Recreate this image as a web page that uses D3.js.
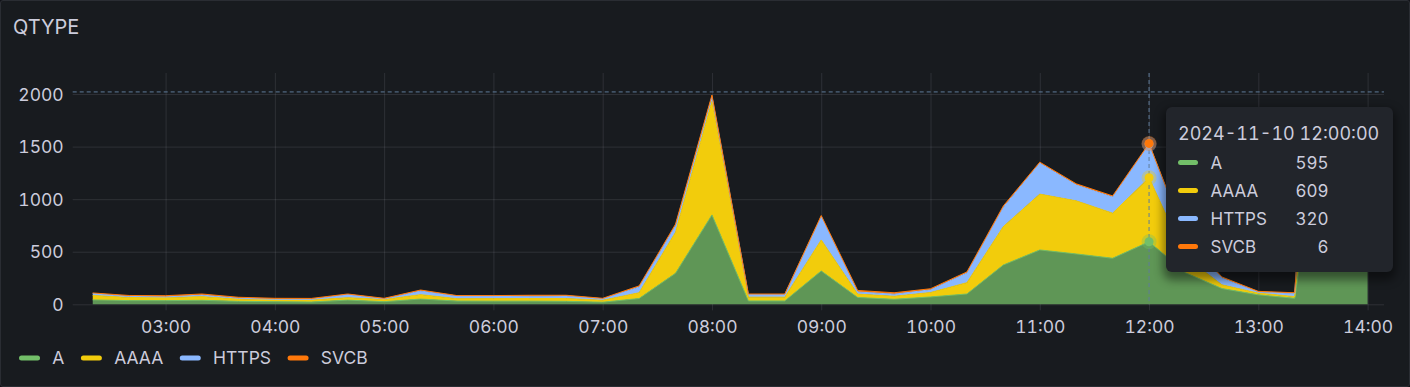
<!DOCTYPE html>
<html>
<head>
<meta charset="utf-8">
<script src="https://cdn.jsdelivr.net/npm/d3@7"></script>
<style>
  html, body { margin: 0; padding: 0; background: #111217; }
  #panel {
    position: relative; width: 1410px; height: 387px; box-sizing: border-box;
    background: #181b1f; border: 1px solid #2a2d33; border-radius: 3px; overflow: hidden;
    font-family: Inter, "Noto Sans", sans-serif; color: #ccccdc;
    font-variant-numeric: tabular-nums;
  }
  #panel svg { position: absolute; left: -1px; top: -1px; }
  #panel svg text { font-variant-numeric: tabular-nums; }
  .tip {
    position: absolute; background: #22252b; border-radius: 6px;
    box-shadow: 0 5px 10px 3px rgba(0, 0, 0, 0.45);
    font-size: 17px; color: #ccccdc;
  }
  .tip div { position: absolute; white-space: nowrap; line-height: 20px; }
  .tip .head { font-size: 18px; }
  .tip .sw { height: 5px; width: 20px; border-radius: 3px; }
</style>
</head>
<body>
<div id="panel"></div>
<script>
// QTYPE - requêtes DNS par type, pas de 20 min
const times = ["02:20", "02:40", "03:00", "03:20", "03:40", "04:00", "04:20", "04:40", "05:00", "05:20",
  "05:40", "06:00", "06:20", "06:40", "07:00", "07:20", "07:40", "08:00", "08:20", "08:40",
  "09:00", "09:20", "09:40", "10:00", "10:20", "10:40", "11:00", "11:20", "11:40", "12:00",
  "12:20", "12:40", "13:00", "13:20", "13:23", "13:40", "14:00"];
const seriesA = [42, 35, 35, 38, 28, 25, 22, 40, 25, 50, 31, 30, 30, 28, 20, 55, 295, 850, 32, 32,
  317, 65, 48, 70, 98, 374, 517, 479, 438, 595, 300, 150, 90, 57, 420, 430, 440];
const seriesAAAA = [42, 30, 30, 35, 22, 18, 18, 23, 20, 42, 22, 24, 25, 27, 18, 55, 391, 1080, 36, 36,
  295, 32, 28, 42, 108, 365, 531, 505, 429, 609, 150, 35, 16, 16, 330, 340, 350];
const seriesHTTPS = [20, 10, 5, 15, 8, 5, 8, 30, 7, 35, 26, 25, 22, 25, 14, 55, 62, 45, 25, 24,
  222, 20, 20, 26, 92, 185, 295, 152, 154, 320, 180, 65, 12, 30, 180, 185, 190];
const seriesSVCB = [4, 9, 12, 10, 9, 9, 8, 5, 5, 9, 4, 4, 9, 6, 5, 10, 14, 15, 5, 6,
  10, 15, 14, 10, 10, 12, 9, 10, 10, 6, 8, 10, 5, 7, 8, 8, 8];
const seriesNames = ["A", "AAAA", "HTTPS", "SVCB"];
const yTicks = [0, 500, 1000, 1500, 2000];
const day = "2024-11-10";
const hoverTime = "12:00";   // position du curseur
const cursorValue = 2020;    // ligne horizontale du curseur

const COLORS = {
  A: { line: "#73bf69", fill: "#5f9656" },
  AAAA: { line: "#f2cc0c", fill: "#f2cc0c" },
  HTTPS: { line: "#8ab8ff", fill: "#8ab8ff" },
  SVCB: { line: "#ff780a", fill: "#ff780a" },
};
const TEXT = "#ccccdc";
const GRID = "rgba(204,204,220,0.12)";
const CURSOR = "#5f7c9a";
const FONT = 17.5;

const parse = d3.timeParse("%Y-%m-%d %H:%M");
const values = { A: seriesA, AAAA: seriesAAAA, HTTPS: seriesHTTPS, SVCB: seriesSVCB };
const rows = times.map((t, i) => {
  const r = { date: parse(day + " " + t) };
  seriesNames.forEach((k) => (r[k] = values[k][i]));
  return r;
});

const W = 1410, H = 387;
const plot = { left: 72.7, right: 1384, top: 73, bottom: 304.3 };

const x = d3.scaleTime()
  .domain([parse(day + " 02:09"), parse(day + " 14:09")])
  .range([plot.left, plot.right]);
const y = d3.scaleLinear().domain([0, 2200]).range([plot.bottom, plot.top]);

const panel = d3.select("#panel");
const svg = panel.append("svg").attr("width", W).attr("height", H)
  .style("font-family", "Inter, 'Noto Sans', sans-serif");

svg.append("text").attr("x", 13).attr("y", 26.5).attr("dy", "0.35em")
  .attr("fill", TEXT).attr("font-size", 20).attr("font-weight", 400).text("QTYPE");

// grille + axes
const gx = svg.append("g").attr("transform", `translate(0,${plot.bottom + 6})`)
  .call(d3.axisBottom(x).ticks(d3.timeHour.every(1)).tickFormat(d3.timeFormat("%H:%M"))
    .tickSize(-(plot.bottom + 6 - plot.top)));
gx.select(".domain").remove();
gx.selectAll("line").attr("stroke", GRID);
gx.selectAll("text").attr("y", 16.5).attr("dy", "0.35em")
  .attr("fill", TEXT).attr("font-size", FONT).attr("font-family", "Inter, sans-serif");

const gy = svg.append("g").attr("transform", `translate(${plot.left},0)`)
  .call(d3.axisLeft(y).tickValues(yTicks).tickFormat(d3.format("d"))
    .tickSize(-(plot.right - plot.left)));
gy.select(".domain").remove();
gy.selectAll("line").attr("stroke", GRID);
gy.selectAll("text").attr("x", -9).attr("dy", "0.35em")
  .attr("fill", TEXT).attr("font-size", FONT).attr("font-family", "Inter, sans-serif");

// aires empilées
const stacked = d3.stack().keys(seriesNames)(rows);
const area = d3.area().x((d) => x(d.data.date)).y0((d) => y(d[0])).y1((d) => y(d[1]));
const line = d3.line().x((d) => x(d.data.date)).y((d) => y(d[1]));

svg.append("g").selectAll("path").data(stacked).join("path")
  .attr("d", area).attr("fill", (s) => COLORS[s.key].fill);
svg.append("g").selectAll("path").data(stacked).join("path")
  .attr("d", line).attr("fill", "none")
  .attr("stroke", (s) => COLORS[s.key].line).attr("stroke-width", 1);

// curseur
const hoverDate = parse(day + " " + hoverTime);
const hx = x(hoverDate);
const hi = times.indexOf(hoverTime);
svg.append("line").attr("x1", hx).attr("x2", hx).attr("y1", plot.top).attr("y2", plot.bottom)
  .attr("stroke", CURSOR).attr("stroke-dasharray", "4,3");
svg.append("line").attr("x1", plot.left).attr("x2", plot.right)
  .attr("y1", y(cursorValue)).attr("y2", y(cursorValue))
  .attr("stroke", CURSOR).attr("stroke-dasharray", "4,3");

const dots = svg.append("g");
stacked.forEach((s) => {
  const cy = y(s[hi][1]);
  dots.append("circle").attr("cx", hx).attr("cy", cy).attr("r", 7.5)
    .attr("fill", COLORS[s.key].line).attr("opacity", 0.35);
  dots.append("circle").attr("cx", hx).attr("cy", cy).attr("r", 4.5)
    .attr("fill", COLORS[s.key].line);
});

// légende
const legend = svg.append("g");
let lx = 19;
seriesNames.forEach((k) => {
  legend.append("rect").attr("x", lx).attr("y", 355.5).attr("width", 21).attr("height", 5)
    .attr("rx", 2.5).attr("fill", COLORS[k].line);
  const t = legend.append("text").attr("x", lx + 33.3).attr("y", 358).attr("dy", "0.35em")
    .attr("fill", TEXT).attr("font-size", FONT).text(k);
  lx += 33.3 + t.node().getComputedTextLength() + 16.5;
});

// infobulle
const tip = panel.append("div").attr("class", "tip")
  .style("left", "1165px").style("top", "106px").style("width", "227px").style("height", "165px");
tip.append("div").attr("class", "head").style("left", "12px").style("top", "16.5px")
  .text(d3.timeFormat("%Y-%m-%d %H:%M:%S")(hoverDate));
seriesNames.forEach((k, i) => {
  const cy = 55.5 + i * 28;
  tip.append("div").attr("class", "sw").style("left", "12px").style("top", cy - 2.5 + "px")
    .style("background", COLORS[k].line);
  tip.append("div").style("left", "44.5px").style("top", cy - 10 + "px").text(k);
  tip.append("div").style("right", "64.5px").style("top", cy - 10 + "px").text(values[k][hi]);
});
</script>
</body>
</html>
